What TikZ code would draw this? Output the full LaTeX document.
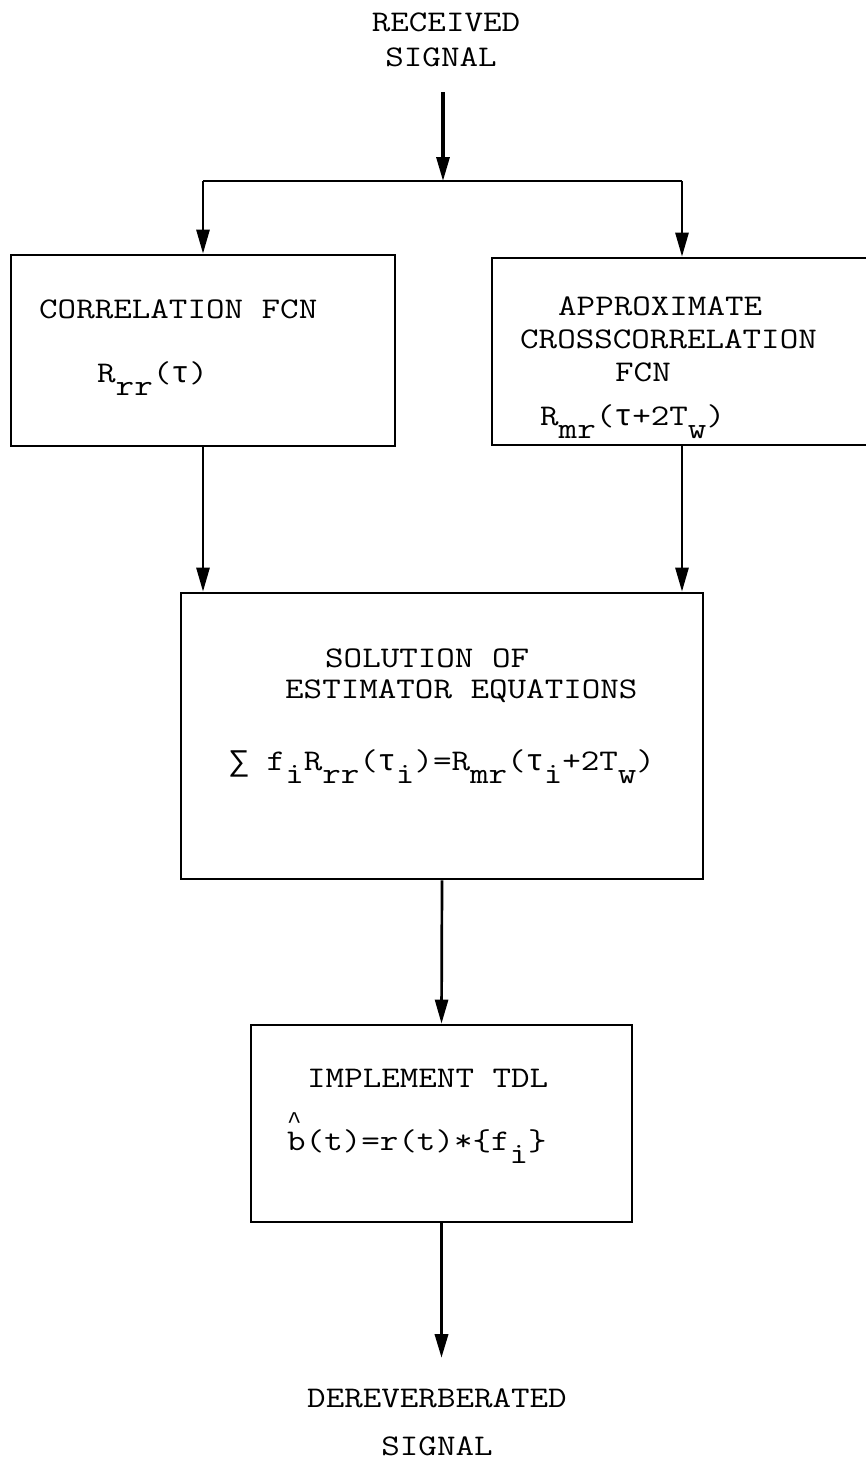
\documentclass[tikz,border=0pt]{standalone}
\usepackage{fontspec}
\setmonofont{Latin Modern Mono}[FakeStretch=1.2]
\newfontfamily\grk{Liberation Mono}
\usetikzlibrary{arrows.meta}
% typewriter-style lowered subscript, hat and Greek glyphs
\newcommand{\lo}[1]{\raisebox{-13pt}{#1}}
\newcommand{\hatb}{\makebox[0pt][l]{\smash{\raisebox{22pt}{\grk\fontsize{24}{24}\selectfont\textasciicircum}}}b}
\newcommand{\tu}{{\grk τ}}
\newcommand{\sm}{{\grk ∑}}
\begin{document}
\begin{tikzpicture}[x=1pt,y=-1pt,
  box/.style={draw, rectangle, line width=2.7pt, inner sep=0pt},
  txt/.style={anchor=base west, inner sep=0pt, font=\ttfamily\fontsize{30}{35}\selectfont},
  ctxt/.style={anchor=base, inner sep=0pt, align=center, font=\ttfamily\fontsize{30}{35}\selectfont},
  wire/.style={line width=2.7pt},
  flow/.style={line width=2.7pt, -{Triangle[length=24pt,width=13pt]}}]

\fill[white] (0,0) rectangle (866,1460);
\useasboundingbox (0,0) rectangle (866,1460);

% input and output labels
\node[ctxt] (rxa) at (446,31) {RECEIVED};
\node[ctxt] (rxb) at (441,66) {SIGNAL};
\node[ctxt] (outa) at (437,1407) {DEREVERBERATED};
\node[ctxt] (outb) at (437,1455) {SIGNAL};

% processing blocks
\node[box, minimum width=384pt, minimum height=191pt] (corr)  at (203,350.5) {};
\node[box, minimum width=380pt, minimum height=187pt] (xcorr) at (682,351.5) {};
\node[box, minimum width=522pt, minimum height=286pt] (sol)   at (442,736) {};
\node[box, minimum width=381pt, minimum height=197pt] (tdl)   at (441.5,1123.5) {};

% block texts
\node[txt] (corrA) at (39,318) {CORRELATION FCN};
\node[txt] (corrB) at (97,382) {R\lo{rr}(\tu)};

\node[txt] (xcorrA) at (558,315) {APPROXIMATE};
\node[txt] (xcorrB) at (520,348) {CROSSCORRELATION};
\node[txt] (xcorrC) at (615,381) {FCN};
\node[txt] (xcorrD) at (540,425) {R\lo{mr}(\tu+2T\lo{w})};

\node[txt] (solA) at (325,667) {SOLUTION OF};
\node[txt] (solB) at (285,698) {ESTIMATOR EQUATIONS};
\node[txt] (solC) at (230,770) {\sm{} f\lo{i}R\lo{rr}(\tu\lo{i})=R\lo{mr}(\tu\lo{i}+2T\lo{w})};

\node[txt] (tdlA) at (307,1087) {IMPLEMENT TDL};
\node[txt] (tdlB) at (287,1150) {\hatb(t)=r(t)*\{f\lo{i}\}};

% signal flow
\coordinate (src)   at (443,92);
\coordinate (split) at (443,181);
\coordinate (sink)  at (441.5,1358);

\draw[flow, line width=3.2pt] (src) -- (split);
\draw[wire] (corr.north |- split) -- (xcorr.north |- split);
\draw[flow] (corr.north |- split) -- (corr.north);
\draw[flow] (xcorr.north |- split) -- (xcorr.north);
\draw[flow] (corr.south) -- (corr.south |- sol.north);
\draw[flow] (xcorr.south) -- (xcorr.south |- sol.north);
\draw[flow] (sol.south) -- (tdl.north);
\draw[flow, line width=3.6pt] (tdl.south) -- (sink);
\end{tikzpicture}
\end{document}
